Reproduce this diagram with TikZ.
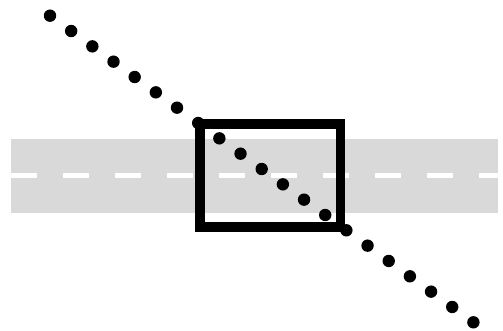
\documentclass[tikz,border=0pt]{standalone}
\definecolor{roadgray}{HTML}{D9D9D9}
\tikzset{
  road/.style = {fill=roadgray, draw=none},
  lane/.style = {white, line width=5, dash pattern=on 26 off 26},
  frame/.style = {draw=black, line width=9.5},
  dot/.style = {fill=black}
}
\begin{document}
\begin{tikzpicture}[x=1pt, y=-1pt]
			\useasboundingbox (0,0) rectangle (503,331);
			\coordinate (r1) at (11,139);
			\coordinate (r2) at (498,213);
			\coordinate (l1) at (11,176);
			\coordinate (l2) at (498,176);
			
			\fill[road] (r1) rectangle (r2);
			\draw[lane] (l1) -- (l2);
			
			\coordinate (b1) at (200,124);
			\coordinate (b2) at (340.5,227);
			\draw[frame] (b1) rectangle (b2);
			
			\foreach \i in {0,...,20}
				\fill[dot] ({50+\i*21.17},{15.7+\i*15.33}) circle (6.2);
		\end{tikzpicture}
\end{document}
